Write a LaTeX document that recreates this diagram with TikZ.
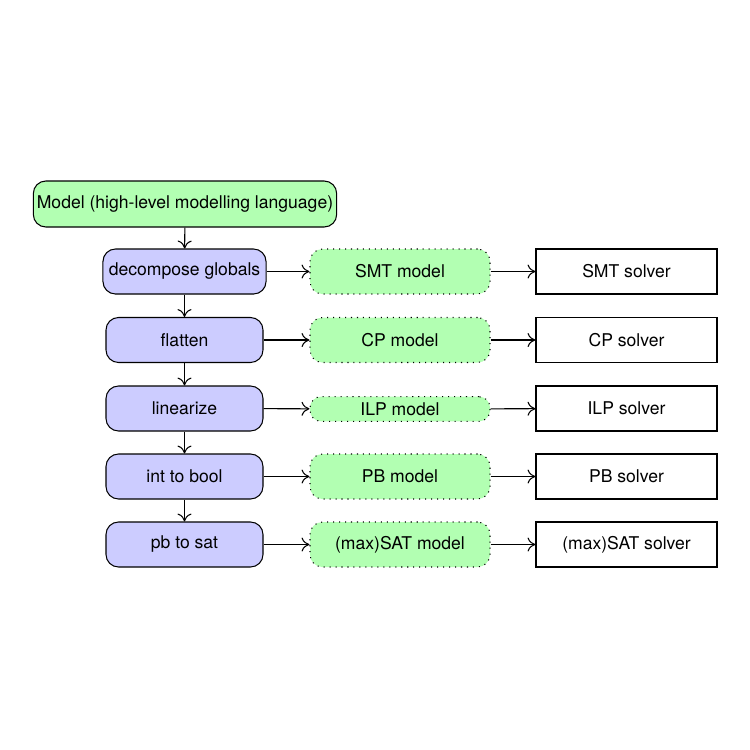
\documentclass[tikz,border=0pt]{standalone}
\usepackage{fontspec}
\setmainfont{TeX Gyre Heros}
\usetikzlibrary{arrows.meta}
\begin{document}
\begin{tikzpicture}[
  every node/.style={font=\fontsize{10pt}{12pt}\selectfont},
  line width=0.6pt,
  base/.style={draw, line width=0.6pt, inner sep=3.3pt, align=center},
  topbox/.style={base, fill=green!30, rounded corners=0.25cm, minimum height=0.92cm, minimum width=6.06cm},
  passbox/.style={base, fill=blue!20, rounded corners=0.25cm, minimum width=3.14cm, minimum height=0.9cm},
  modelbox/.style={base, fill=green!30, dash pattern=on 0.6pt off 2.8pt, rounded corners=0.25cm, minimum width=3.6cm, minimum height=0.9cm},
  solverbox/.style={base, rounded corners=0pt, minimum width=3.62cm, minimum height=0.9cm},
  conn/.style={-{To[length=4.5pt,width=8pt]}, line width=0.6pt}
]
\useasboundingbox (0,0) rectangle (15,-15);
\node[topbox, inner sep=2pt] (model) at (3.70,-4.08) {Model (high-level modelling language)};
\node[passbox] (p1) at (3.69,-5.43) {decompose globals};
\node[passbox] (p2) at (3.69,-6.80) {flatten};
\node[passbox] (p3) at (3.69,-8.17) {linearize};
\node[passbox] (p4) at (3.69,-9.53) {int to bool};
\node[passbox] (p5) at (3.69,-10.89) {pb to sat};
\node[modelbox] (m1) at (8.00,-5.43) {SMT model};
\node[modelbox] (m2) at (8.00,-6.80) {CP model};
\node[modelbox, minimum height=0.48cm, rounded corners=0.22cm] (m3) at (8.00,-8.18) {ILP model};
\node[modelbox] (m4) at (8.00,-9.53) {PB model};
\node[modelbox] (m5) at (8.00,-10.89) {(max)SAT model};
\node[solverbox] (s1) at (12.53,-5.43) {SMT solver};
\node[solverbox] (s2) at (12.53,-6.80) {CP solver};
\node[solverbox] (s3) at (12.53,-8.17) {ILP solver};
\node[solverbox] (s4) at (12.53,-9.53) {PB solver};
\node[solverbox] (s5) at (12.53,-10.89) {(max)SAT solver};
\draw[conn] (model) -- (p1);
\draw[conn] (p1) -- (p2);
\draw[conn] (p2) -- (p3);
\draw[conn] (p3) -- (p4);
\draw[conn] (p4) -- (p5);
\foreach \i in {1,...,5} {
  \draw[conn] (p\i) -- (m\i);
  \draw[conn] (m\i) -- (s\i);
}
\end{tikzpicture}
\end{document}
